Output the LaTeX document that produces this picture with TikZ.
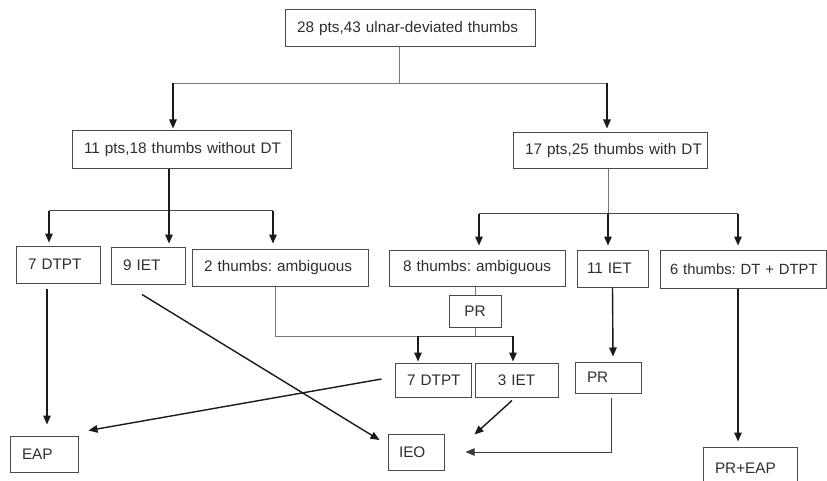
\documentclass[tikz,border=0pt]{standalone}
\usepackage{fontspec}
\setmainfont{Liberation Sans}
\frenchspacing
\usetikzlibrary{arrows.meta}
\definecolor{boxgray}{HTML}{4A4A4A}
\definecolor{txtgray}{HTML}{2E2E2E}
\definecolor{lngray}{HTML}{777777}
\definecolor{arrblack}{HTML}{1A1A1A}
\begin{document}
\begin{tikzpicture}[x=1pt,y=-1pt,
  box/.style={draw=boxgray,line width=1pt,inner xsep=12pt,inner ysep=0pt,
    font=\fontsize{15.3}{18}\selectfont,text=txtgray,anchor=center},
  thinln/.style={draw=lngray,line width=0.7pt},
  midln/.style={draw=arrblack!80,line width=1pt},
  arr/.style={draw=arrblack,line width=1.4pt,-{Triangle[length=9pt,width=7.5pt]}},
  thinarr/.style={draw=arrblack!85,line width=0.8pt,-{Triangle[length=9pt,width=7.5pt]}}]
\useasboundingbox (0,0) rectangle (827,481);
\clip (0,0) rectangle (827,481);
\fill[white] (0,0) rectangle (827,481);

% boxes
\node[box,text width=226pt,minimum height=37pt,align=left] (top) at (410,28.5) {\mbox{28 pts,43 ulnar-deviated thumbs}};
\node[box,text width=195pt,minimum height=38pt,align=left] (b11) at (181.5,150) {\mbox{11 pts,18 thumbs without DT}};
\node[box,text width=170pt,minimum height=36pt,align=left] (b17) at (610,151) {\mbox{17 pts,25 thumbs with DT}};

\node[box,text width=60pt,minimum height=37pt,align=left] (l7) at (58,264.5) {\mbox{7 DTPT}};
\node[box,text width=50pt,minimum height=37pt,align=left] (l9) at (148,265.5) {\mbox{9 IET}};
\node[box,text width=152pt,minimum height=37pt,align=left] (l2) at (280,267.5) {\mbox{2 thumbs: ambiguous}};
\node[box,inner xsep=14pt,text width=148pt,minimum height=36pt,align=left] (r8) at (477,268) {\mbox{8 thumbs: ambiguous}};
\node[box,inner xsep=10pt,text width=51pt,minimum height=37pt,align=left] (r11) at (612.5,268.5) {\mbox{11 IET}};
\node[box,inner xsep=10pt,text width=146pt,minimum height=38pt,align=left,font=\fontsize{14.8}{18}\selectfont] (r6) at (743,269) {\mbox{6 thumbs: DT + DTPT}};

\node[box,inner xsep=4pt,text width=44pt,minimum height=32pt,align=center] (pr1) at (475,311) {PR};
\node[box,text width=52pt,minimum height=34pt,align=left] (m7) at (433,380) {\mbox{7 DTPT}};
\node[box,text width=59pt,minimum height=34pt,align=center] (m3) at (516.5,380) {\mbox{3 IET}};
\node[box,text width=42pt,minimum height=31pt,align=left] (mpr) at (608,377.5) {PR};

\node[box,text width=44pt,minimum height=36pt,align=left] (eap) at (44,454) {EAP};
\node[box,inner xsep=11pt,text width=34pt,minimum height=36pt,align=left] (ieo) at (416,452) {IEO};
\node[box,text width=70pt,minimum height=42pt,align=left] (pre) at (750,468) {\mbox{PR+EAP}};

% level 1
\coordinate (j0) at (399,83);
\coordinate (jL) at (173,83);
\coordinate (jR) at (607,83);
\draw[thinln] (j0 |- top.south) -- (j0);
\draw[thinln] (jL) -- (jR);
\draw[arr] (jL) -- ([yshift=2pt]jL |- b11.north);
\draw[arr] (jR) -- ([yshift=4pt]jR |- b17.north);

% left group
\coordinate (k1) at (49,211);
\coordinate (k2) at (169,211);
\coordinate (k3) at (273,211);
\draw[midln] (k1) -- (k3);
\draw[arr] (k2 |- b11.south) -- ([yshift=3pt]k2 |- l9.north);
\draw[arr] (k1) -- ([yshift=3pt]k1 |- l7.north);
\draw[arr] (k3) -- ([yshift=5pt]k3 |- l2.north);

% right group
\coordinate (m1) at (479,214);
\coordinate (m2) at (608,214);
\coordinate (m3c) at (738,214);
\draw[thinln] (m2 |- b17.south) -- (m2);
\draw[midln] (m1) -- (m3c);
\draw[arr] (m1) -- ([yshift=4pt]m1 |- r8.north);
\draw[arr] (m2) -- ([yshift=4pt]m2 |- r11.north);
\draw[arr] (m3c) -- ([yshift=4pt]m3c |- r6.north);

% PR chain
\coordinate (n0) at (275,336);
\coordinate (n1) at (418,336);
\coordinate (n2) at (513,336);
\draw[thinln] (pr1.north |- r8.south) -- (pr1.north);
\draw[thinln] (pr1.south) -- (pr1.south |- n1);
\draw[thinln] (n0 |- l2.south) -- (n0) -- (n1);
\draw[midln] (n1) -- (n2);
\draw[arr] (n1) -- ([yshift=1pt]n1 |- m7.north);
\draw[arr] (n2) -- ([yshift=1pt]n2 |- m3.north);

% lower arrows
\draw[arr] ([xshift=-11pt,yshift=-5pt]l7.south) -- ([xshift=3pt,yshift=11pt]eap.north);
\draw[arr] ([xshift=-6pt,yshift=-10pt]l9.south) -- ([xshift=-8pt,yshift=12pt]ieo.west);
\draw[arr] ([xshift=-13pt,yshift=1pt]m7.west) -- ([xshift=10pt,yshift=5pt]eap.north east);
\draw[arr] ([xshift=-4.5pt,yshift=-3pt]m3.south) -- ([xshift=30pt,yshift=-1pt]ieo.north east);
\draw[thinarr] ([xshift=3pt,yshift=-4pt]mpr.south) |- ([xshift=21pt]ieo.east);
\draw[arr] (r11.south) -- ([xshift=5pt,yshift=5pt]mpr.north);
\draw[arr] ([xshift=-5pt]r6.south) -- ([xshift=-12pt,yshift=5pt]pre.north);
\end{tikzpicture}
\end{document}
